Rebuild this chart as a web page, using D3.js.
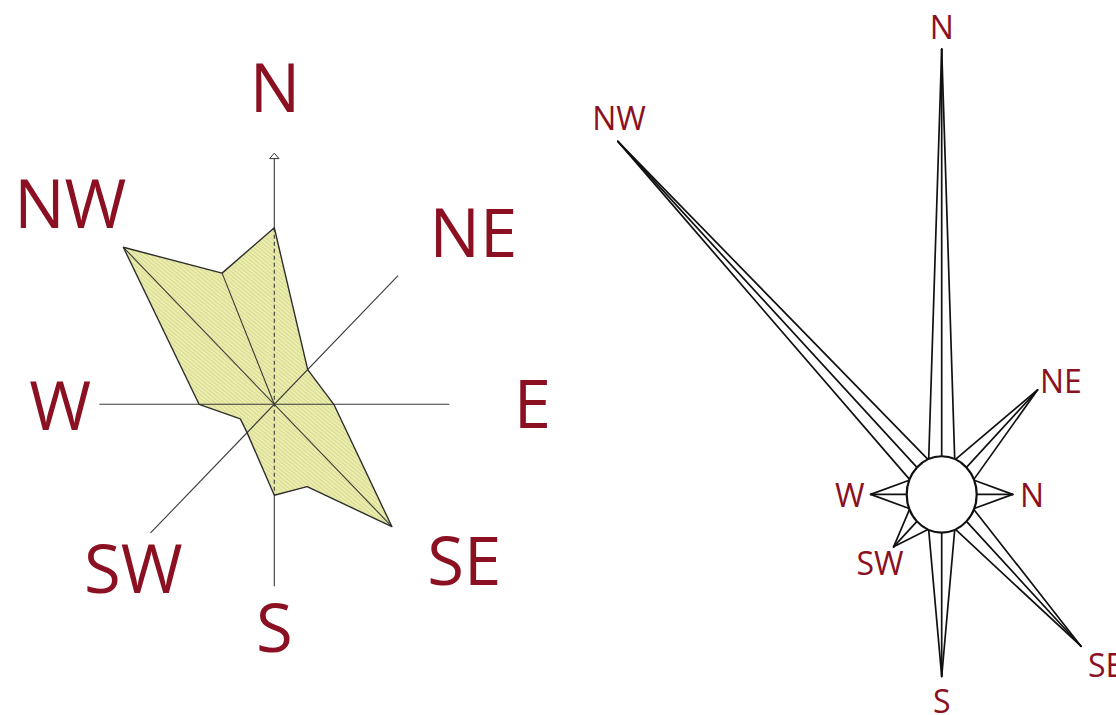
<!DOCTYPE html>
<html><head><meta charset="utf-8">
<script src="https://cdn.jsdelivr.net/npm/d3@7"></script>
<style>body{margin:0;background:#fff}svg{display:block}</style>
</head><body>
<svg id="c" width="1116" height="715"></svg>
<script>
// ---------------- data ----------------
// left rose: polygon vertices (direction, value)
const polygonDirs   = ["N","NE","E","SE","SSE","S","SW","WSW","W","NW","NNW"];
const polygonValues = [9.7, 2.7, 3.4, 9.5, 4.9, 5.0, 2.2, 2.1, 4.3, 12.2, 7.8];
const axisDirs      = ["N","NE","E","SE","S","SW","W","NW"];
const axisLabels    = ["N","NE","E","SE","S","SW","W","NW"];
const axisMax       = 10;
const northAxisMax  = 13.8;
// right rose: spikes
const spikeDirs   = ["N","NE","E","SE","S","SW","W","NW"];
const spikeLabels = ["N","NE","N","SE","S","SW","W","NW"];
const spikeValues = [24.9, 6.7, 2.4, 10.8, 8.8, 2.2, 2.4, 28.2];

// ---------------- layout ----------------
const compass = ["N","NNE","NE","ENE","E","ESE","SE","SSE","S","SSW","SW","WSW","W","WNW","NW","NNW"];
const angleOf = d => compass.indexOf(d) * 22.5 * Math.PI / 180;
const RED = "#8b1022";

const svg = d3.select("#c");
const defs = svg.append("defs");
const pat = defs.append("pattern").attr("id","hatch").attr("patternUnits","userSpaceOnUse")
  .attr("width",3).attr("height",3).attr("patternTransform","rotate(-50)");
pat.append("rect").attr("width",3).attr("height",3).attr("fill","#eef0b4");
pat.append("rect").attr("width",1.2).attr("height",3).attr("fill","#d7da8e");

// ===== left chart =====
const L = {cx: 274.3, cy: 404.3, k: 1.04};
const rL = d3.scaleLinear().domain([0, axisMax]).range([0, 175]);
const ptL = (dir, v) => {
  const a = angleOf(dir), r = rL(v);
  return [L.cx + Math.sin(a) * r, L.cy - Math.cos(a) * r * L.k];
};
const gL = svg.append("g");
const polyPts = polygonDirs.map((d, i) => ptL(d, polygonValues[i]));
const valOf = d => polygonValues[polygonDirs.indexOf(d)];

gL.append("path").attr("d", d3.line()(polyPts) + "Z").attr("fill","url(#hatch)").attr("stroke","none");

const axisLine = (p1, p2, dash) => gL.append("line")
  .attr("x1",p1[0]).attr("y1",p1[1]).attr("x2",p2[0]).attr("y2",p2[1])
  .attr("stroke","#3a3a3a").attr("stroke-width",1.1).attr("stroke-dasharray", dash || null);

// full axes
axisLine(ptL("W", axisMax), ptL("E", axisMax));
axisLine(ptL("SW", axisMax), ptL("NE", axisMax));
// vertical axis: solid outside polygon, dashed inside
const arrowBase = ptL("N", northAxisMax - 0.3);
axisLine(arrowBase, ptL("N", valOf("N")));
axisLine(ptL("N", valOf("N")), ptL("S", valOf("S")), "4,3");
axisLine(ptL("S", valOf("S")), ptL("S", axisMax));
// interior spokes
axisLine(ptL("NW", valOf("NW")), ptL("SE", valOf("SE")));
axisLine([L.cx, L.cy], ptL("NNW", valOf("NNW")));
// arrow head
const tip = ptL("N", northAxisMax);
gL.append("path")
  .attr("d", `M${tip[0]},${tip[1]} L${tip[0]-4.7},${arrowBase[1]} L${tip[0]+4.7},${arrowBase[1]} Z`)
  .attr("fill","#fff").attr("stroke","#333").attr("stroke-width",1);
// outline
gL.append("path").attr("d", d3.line()(polyPts) + "Z").attr("fill","none")
  .attr("stroke","#2e2e2e").attr("stroke-width",1.4).attr("stroke-linejoin","round");

// labels (offsets from centre: dx, baseline dy)
const leftLabelPos = {N:[0.7,-292], NE:[199,-147], E:[258,24], SE:[190,181], S:[0,248], SW:[-141,189], W:[-214,26], NW:[-204,-176]};
gL.selectAll("text.l").data(axisDirs).join("text")
  .attr("x", d => L.cx + leftLabelPos[d][0]).attr("y", d => L.cy + leftLabelPos[d][1])
  .attr("text-anchor","middle").attr("font-family","'Open Sans', sans-serif")
  .attr("font-size", 67).attr("fill", RED)
  .text((d, i) => axisLabels[i]);

// ===== right chart =====
const R = {cx: 941.7, cy: 494.4, k: 1.09, r0: 35, w: 13};
const rR = d3.scaleLinear().domain([0, 30]).range([R.r0, R.r0 + 450]);
const toScreen = (x, y) => [R.cx + x, R.cy + y * R.k];
const gR = svg.append("g");
spikeDirs.forEach((d, i) => {
  const a = angleOf(d);
  const ux = Math.sin(a), uy = -Math.cos(a), px = Math.cos(a), py = Math.sin(a);
  const Lt = rR(spikeValues[i]);
  const b = Math.sqrt(R.r0 * R.r0 - R.w * R.w);
  const t = toScreen(ux * Lt, uy * Lt);
  const b1 = toScreen(ux * b + px * R.w, uy * b + py * R.w);
  const b2 = toScreen(ux * b - px * R.w, uy * b - py * R.w);
  const c0 = toScreen(ux * R.r0, uy * R.r0);
  [b1, b2, c0].forEach(s => gR.append("line")
    .attr("x1", s[0]).attr("y1", s[1]).attr("x2", t[0]).attr("y2", t[1])
    .attr("stroke","#111").attr("stroke-width",1.7).attr("stroke-linecap","round"));
});
gR.append("ellipse").attr("cx",R.cx).attr("cy",R.cy).attr("rx",R.r0).attr("ry",R.r0*R.k)
  .attr("fill","#fff").attr("stroke","#111").attr("stroke-width",2.2);

const rightLabelPos = {N:[0,-455.5,"middle"], NE:[98.3,-101.5,"start"], E:[90.3,12.5,"middle"], SE:[146.3,182.5,"start"],
  S:[0,218.5,"middle"], SW:[-61.7,80.5,"middle"], W:[-92,12.5,"middle"], NW:[-322.7,-364.5,"middle"]};
gR.selectAll("text.r").data(spikeDirs).join("text")
  .attr("x", d => R.cx + rightLabelPos[d][0]).attr("y", d => R.cy + rightLabelPos[d][1])
  .attr("text-anchor", d => rightLabelPos[d][2]).attr("font-family","'Open Sans', sans-serif")
  .attr("font-size", 32).attr("fill", RED)
  .text((d, i) => spikeLabels[i]);
</script>
</body></html>
